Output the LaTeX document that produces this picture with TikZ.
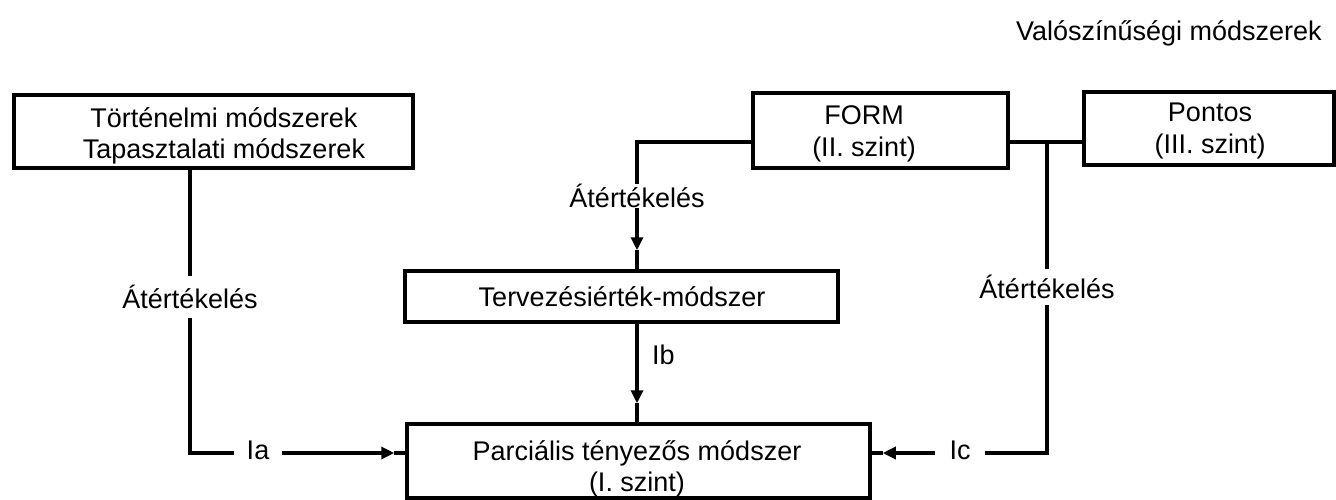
\documentclass[tikz,border=0pt]{standalone}
\usepackage{fontspec}
\setmainfont{Liberation Sans}
\usetikzlibrary{arrows.meta}
\begin{document}
\begin{tikzpicture}[x=1pt,y=-1pt,
  box/.style={draw,line width=3.5pt,inner sep=0pt},
  lbl/.style={inner sep=0pt,align=center,font=\fontsize{27}{31.5}\selectfont},
  conn/.style={line width=3.5pt},
  arr/.style={line width=3.5pt,-{Triangle[length=13pt,width=12pt]}}]
\fill[white] (0,0) rectangle (1336,499);
\useasboundingbox (0,0) rectangle (1336,499);
% boxes
\node[box,minimum width=399,minimum height=73] (hist) at (213.5,131.5) {};
\node[lbl] (histtxt) at (224,136) {Történelmi módszerek\\Tapasztalati módszerek};
\node[box,minimum width=255,minimum height=75] (form) at (880.5,130.5) {};
\node[lbl] (formtxt) at (864,134) {FORM\\(II. szint)};
\node[box,minimum width=250,minimum height=73] (pontos) at (1209,128.5) {};
\node[lbl] (pontostxt) at (1210,131) {Pontos\\(III. szint)};
\node[box,minimum width=433,minimum height=51] (terv) at (621.5,296.5) {};
\node[lbl] (tervtxt) at (622,297) {Tervezésiérték-módszer};
\node[box,minimum width=463,minimum height=74] (parc) at (638.5,461) {};
\node[lbl] (parctxt) at (637,469) {Parciális tényezős módszer\\(I. szint)};
\node[lbl,anchor=east] (title) at (1322,33) {Valószínűségi módszerek};
% junctions
\coordinate (jl) at (637,142);
\coordinate (jr) at (1047,142);
\coordinate (cl) at (190,453);
\coordinate (cr) at (1047,453);
% labels
\node[lbl,minimum height=42] (at1) at (190,297) {Átértékelés};
\node[lbl] (at2) at (637,196) {Átértékelés};
\node[lbl,minimum height=36] (at3) at (1047,287) {Átértékelés};
\node[lbl,inner xsep=13pt] (ia) at (258,450) {Ia};
\node[lbl,inner xsep=14pt] (ic) at (960,450) {Ic};
\node[lbl,anchor=west] (ib) at (652,355) {Ib};
% left branch
\draw[conn] (hist.south -| cl) -- (at1.north);
\draw[conn] (at1.south) -- (cl) -- (cl -| ia.west);
\path (parc.west |- cl) coordinate (pl) ++(-11,0) coordinate (plt);
\draw[arr] (cl -| ia.east) -- (plt);
\draw[conn] (plt) -- (pl);
% centre branch
\draw[conn] (form.west |- jl) -- (jl) -- (at2.north);
\path (terv.north -| jl) coordinate (tt) ++(0,-19) coordinate (ttt);
\draw[arr] (at2.south) -- (ttt);
\draw[conn] (ttt) -- (tt);
\path (parc.north -| jl) coordinate (pt) ++(0,-19) coordinate (ptt);
\draw[arr] (terv.south -| jl) -- (ptt);
\draw[conn] (ptt) -- (pt);
% right branch
\draw[conn] (form.east |- jr) -- (pontos.west |- jr);
\draw[conn] (jr) -- (at3.north);
\draw[conn] (at3.south) -- (cr) -- (cr -| ic.east);
\path (parc.east |- cr) coordinate (pr) ++(11,0) coordinate (prt);
\draw[arr] (cr -| ic.west) -- (prt);
\draw[conn] (prt) -- (pr);
\end{tikzpicture}
\end{document}
